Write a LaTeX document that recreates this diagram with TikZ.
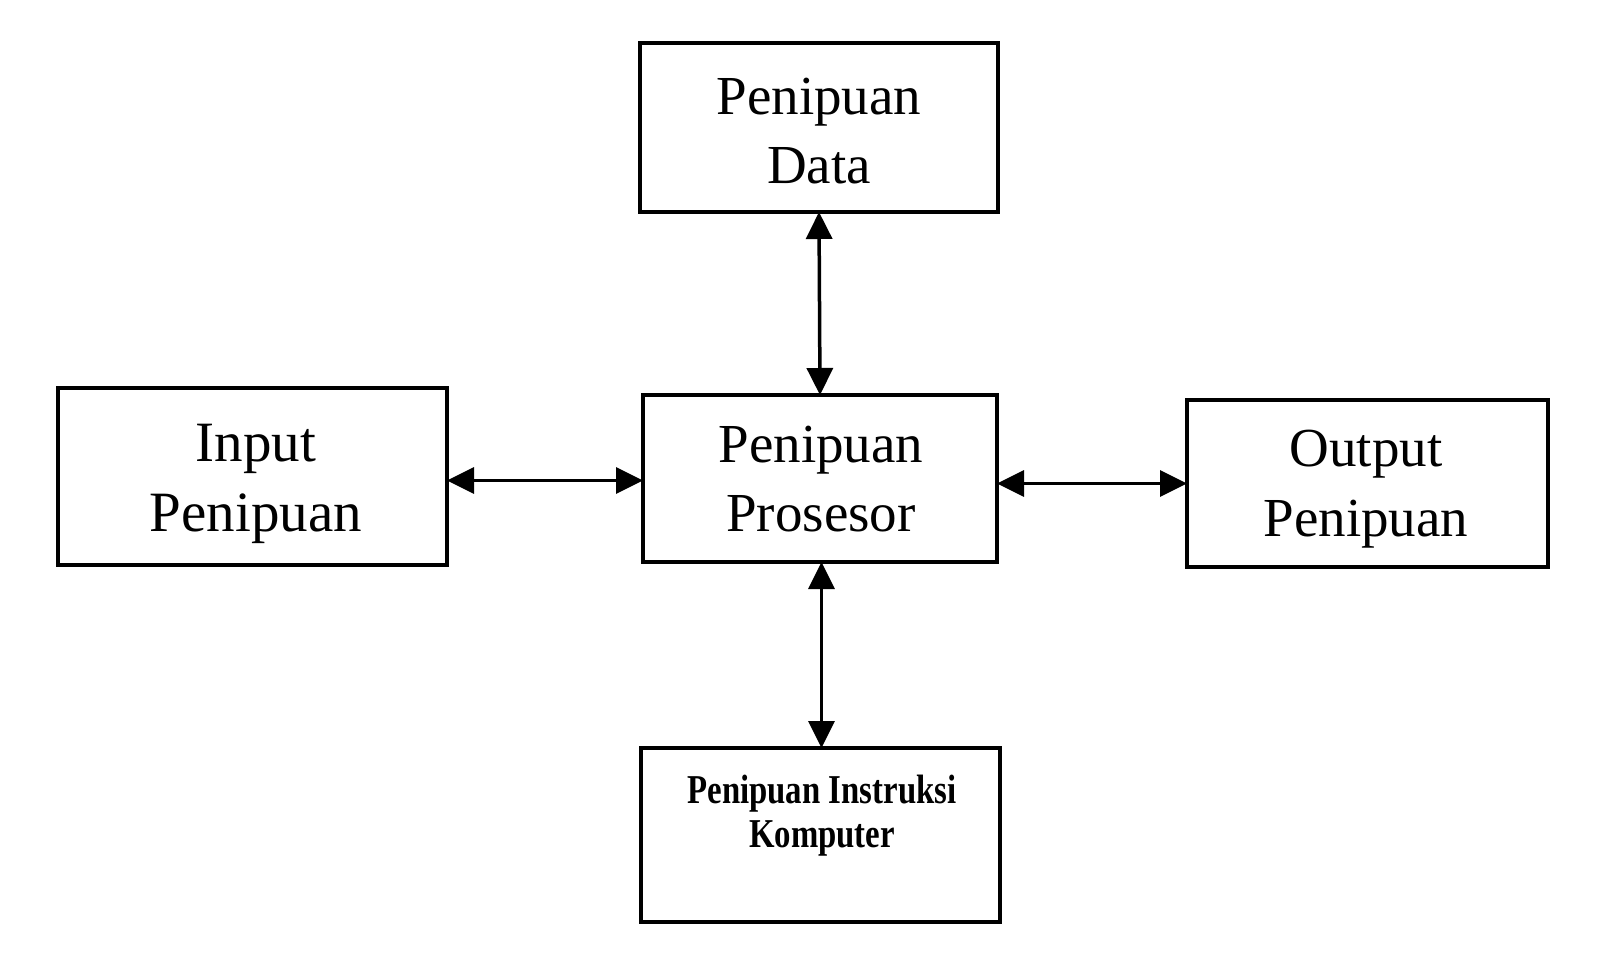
\documentclass[tikz,border=0pt]{standalone}
\usepackage{fontspec}
\setmainfont{Liberation Serif}
\newfontfamily\condbf[FakeStretch=0.8]{Liberation Serif Bold}
\usetikzlibrary{arrows.meta}
\tikzset{
  box/.style={draw, line width=4.3pt, inner sep=0pt, outer sep=0pt},
  lbl/.style={anchor=base, inner sep=0pt, font=\fontsize{55}{66}\selectfont},
  big/.style={lbl, font=\fontsize{57}{66}\selectfont},
  small/.style={anchor=base, inner sep=0pt, font=\condbf\fontsize{41}{46}\selectfont},
  arr/.style={line width=3.5pt, {Triangle[length=27pt,width=26pt]}-{Triangle[length=27pt,width=26pt]}}
}
\begin{document}
\begin{tikzpicture}[x=1pt,y=-1pt]
\fill[white] (0,0) rectangle (1600,961);
\useasboundingbox (0,0) rectangle (1600,961);
% boxes
\node[box, minimum width=358pt, minimum height=169pt] (data) at (819,127.5) {};
\node[box, minimum width=354pt, minimum height=167pt] (cpu) at (820,478.5) {};
\node[box, minimum width=389pt, minimum height=177pt] (in) at (252.5,476.5) {};
\node[box, minimum width=361pt, minimum height=167pt] (out) at (1367.5,483.5) {};
\node[box, minimum width=359pt, minimum height=174pt] (ins) at (820.5,835) {};
% texts
\node[lbl] (t1) at (819,114) {Penipuan};
\node[lbl] (t2) at (819,183) {Data};
\node[lbl] (t3) at (821,462) {Penipuan};
\node[lbl] (t4) at (821,531) {Prosesor};
\node[big] (t5) at (256,461) {Input};
\node[big] (t6) at (256,531) {Penipuan};
\node[lbl] (t7) at (1366,466) {Output};
\node[lbl] (t8) at (1366,536) {Penipuan};
\node[small] (t9) at (822,803) {Penipuan Instruksi};
\node[small] (t10) at (822,847) {Komputer};
% connectors
\draw[arr] ([xshift=1.5pt]cpu.south) -- ([xshift=1.5pt]cpu.south |- ins.north);
\draw[arr] (data.south) -- (cpu.north);
\draw[arr] ([yshift=-4pt]in.east) -- ([yshift=-4pt]in.east -| cpu.west);
\draw[arr] (cpu.east |- out.west) -- (out.west);
\end{tikzpicture}
\end{document}
